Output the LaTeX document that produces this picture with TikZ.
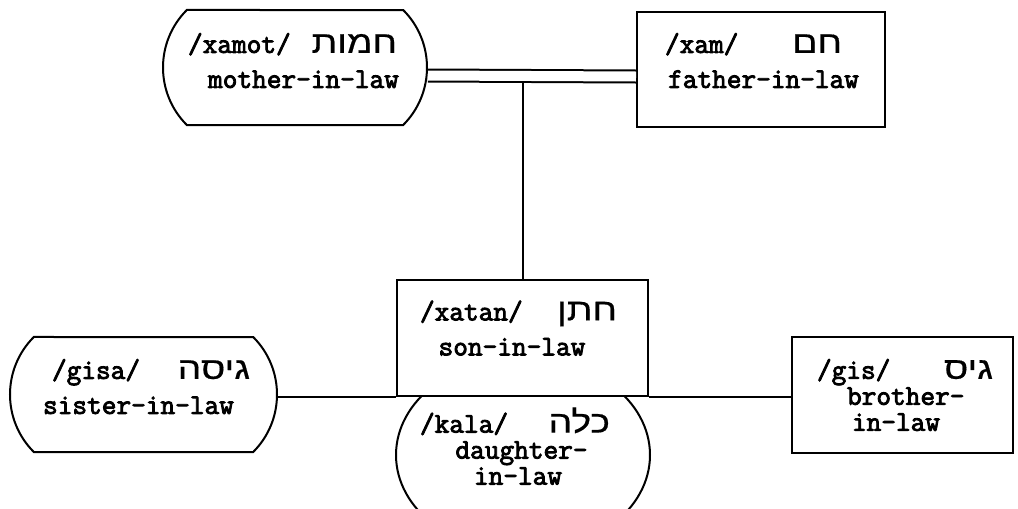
\documentclass[tikz,border=0pt]{standalone}
\usepackage{fontspec}
\setmonofont[AutoFakeBold=3]{Latin Modern Mono}
\newfontfamily\hebfont[Script=Hebrew,FakeStretch=1.2,FakeBold=0.5]{Liberation Sans}
\TeXXeTstate=1
\usetikzlibrary{shapes.misc,shapes.geometric}

\newcommand{\tw}{\ttfamily\bfseries\fontsize{28.5}{26}\selectfont}
\newcommand{\heb}[1]{{\hebfont\mdseries\fontsize{31}{26}\selectfont\beginR #1\endR}}
% desplaza una linea sin cambiar su ancho
\newcommand{\mover}[2]{\hspace*{#1pt}#2\hspace*{-#1pt}}
% primera linea: transcripcion a la izquierda, hebreo a la derecha
\newcommand{\linea}[4]{\mover{#2}{\makebox[#1pt]{\tw #3\hfill\heb{#4}}}}

\tikzset{
	caja/.style={draw,rectangle,fill=white,inner sep=0pt,align=center,font=\tw},
	ovalo/.style={caja,rounded rectangle,rounded rectangle arc length=90},
	elipse/.style={caja,ellipse,inner xsep=-6pt}
}

\begin{document}
\begin{tikzpicture}[x=1pt,y=-1pt,line width=2pt]
		\useasboundingbox (0,0) rectangle (1018,509);
		\clip (0,0) rectangle (1018,509);

		%Nodos
		\node [ovalo,minimum width=264pt,minimum height=115pt,text depth=14pt] (nodoxamot) at (295,67.5) {\linea{209}{-2.5}{/xamot/}{חמות}\\[9pt]\mover{8.5}{mother-in-law}};
		\node [caja,minimum width=248pt,minimum height=115pt,text depth=18pt] (nodoxam) at (761,69.5) {\linea{177}{-7.5}{/xam/}{חם}\\[9pt]\mover{2.5}{father-in-law}};
		\node [elipse,minimum width=254pt,minimum height=196pt,text depth=18pt] (nodokala) at (523,455) {\linea{190}{-8}{/kala/}{כלה}\\\mover{-3}{daughter-}\\\mover{-5}{in-law}};
		\node [caja,minimum width=251pt,minimum height=116pt,text depth=20pt] (nodoxatan) at (522.5,338) {\linea{197}{-4}{/xatan/}{חתן}\\[9pt]\mover{-10.5}{son-in-law}};
		\node [ovalo,minimum width=267pt,minimum height=115pt,text depth=16pt] (nodogisa) at (143.5,394.5) {\linea{198}{7.5}{/gisa/}{גיסה}\\[9pt]\mover{-5}{sister-in-law}};
		\node [caja,minimum width=221pt,minimum height=116pt] (nodogis) at (902.5,395) {\linea{176}{2.5}{/gis/}{גיס}\\\mover{6.5}{brother-}\\\mover{-6.5}{in-law}};
		\coordinate (union) at (522.5,82);

		%Arcos
		\draw[double,double distance=10pt] ([yshift=-8pt]nodoxamot.east)--([yshift=-7pt]nodoxam.west);
		\draw[-] (nodoxatan.north)--(union);
		\draw[-] (nodogisa.east |- nodoxatan.south west)--(nodoxatan.south west);
		\draw[-] (nodoxatan.south east)--(nodoxatan.south east -| nodogis.west);
\end{tikzpicture}
\end{document}
